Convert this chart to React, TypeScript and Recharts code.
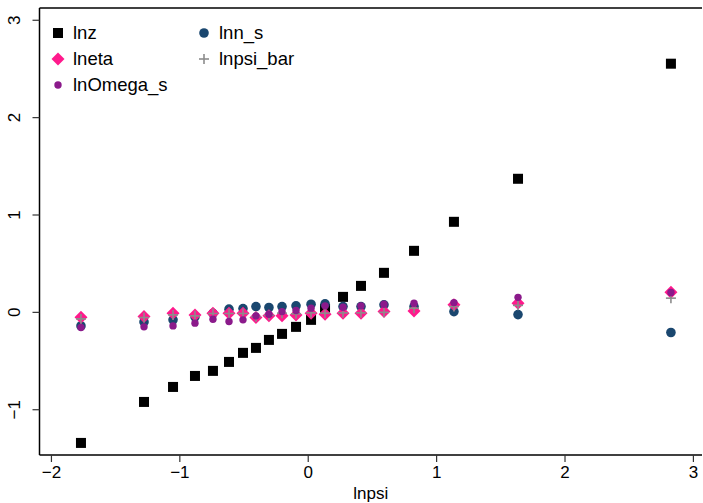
import React from "react";
import { ScatterChart, Scatter, XAxis, YAxis, ReferenceLine } from "recharts";

const lnpsi = [-1.770, -1.279, -1.053, -0.882, -0.742, -0.617, -0.508, -0.407, -0.306, -0.204, -0.095, 0.022, 0.131, 0.271, 0.411, 0.590, 0.824, 1.135, 1.634, 2.825];
const lnz = [-1.341, -0.920, -0.766, -0.653, -0.601, -0.509, -0.416, -0.365, -0.283, -0.221, -0.149, -0.077, 0.036, 0.159, 0.272, 0.406, 0.632, 0.930, 1.372, 2.554];
const lnn_s = [-0.139, -0.098, -0.077, -0.045, -0.010, 0.033, 0.039, 0.060, 0.050, 0.060, 0.067, 0.084, 0.087, 0.060, 0.060, 0.077, 0.060, 0.008, -0.023, -0.207];
const lneta = [-0.050, -0.043, -0.008, -0.026, -0.008, -0.008, -0.008, -0.053, -0.036, -0.036, -0.026, -0.008, -0.019, -0.008, -0.008, 0.008, 0.015, 0.077, 0.094, 0.207];
const lnpsi_bar = [-0.067, -0.053, -0.026, -0.036, -0.012, -0.012, -0.012, -0.045, -0.030, -0.008, -0.015, -0.005, -0.008, -0.005, -0.005, 0.000, 0.043, 0.060, 0.072, 0.146];
const lnOmega_s = [-0.156, -0.149, -0.139, -0.111, -0.070, -0.094, -0.077, -0.036, -0.019, 0.008, 0.019, 0.043, 0.067, 0.053, 0.067, 0.084, 0.094, 0.100, 0.154, 0.204];

const xTicks = [-2, -1, 0, 1, 2, 3];
const yTicks = [-1, 0, 1, 2, 3];

const toPts = (ys: number[]) => lnpsi.map((x, i) => ({ x, y: ys[i] }));

const FONT = '"Liberation Sans", Arial, Helvetica, sans-serif';
const C_Z = "#000000";
const C_N = "#1a476f";
const C_ETA = "#ff1a8c";
const C_BAR = "#8c8c8c";
const C_OM = "#8b1a8b";

const SquareShape = (p: any) => <rect x={p.cx - 5} y={p.cy - 5} width={10} height={10} fill={C_Z} />;
const BlueCircle = (p: any) => <circle cx={p.cx} cy={p.cy} r={4.8} fill={C_N} />;
const DiamondShape = (p: any) => (
  <polygon points={`${p.cx},${p.cy - 6.5} ${p.cx + 6.5},${p.cy} ${p.cx},${p.cy + 6.5} ${p.cx - 6.5},${p.cy}`} fill={C_ETA} />
);
const PlusShape = (p: any) => (
  <g stroke={C_BAR} strokeWidth={1.6}>
    <line x1={p.cx - 5} y1={p.cy} x2={p.cx + 5} y2={p.cy} />
    <line x1={p.cx} y1={p.cy - 5} x2={p.cx} y2={p.cy + 5} />
  </g>
);
const PurpleCircle = (p: any) => <circle cx={p.cx} cy={p.cy} r={3.7} fill={C_OM} />;

const legendItems = [
  { name: "lnz", icon: <rect x={2} y={2} width={10} height={10} fill={C_Z} /> },
  { name: "lnn_s", icon: <circle cx={7} cy={7} r={4.8} fill={C_N} /> },
  { name: "lneta", icon: <polygon points="7,0.5 13.5,7 7,13.5 0.5,7" fill={C_ETA} /> },
  {
    name: "lnpsi_bar",
    icon: (
      <g stroke={C_BAR} strokeWidth={1.6}>
        <line x1={2} y1={7} x2={12} y2={7} />
        <line x1={7} y1={2} x2={7} y2={12} />
      </g>
    ),
  },
  { name: "lnOmega_s", icon: <circle cx={7} cy={7} r={3.7} fill={C_OM} /> },
];

const LegendBox = () => (
  <div style={{ position: "absolute", left: 51, top: 23, width: 320, height: 80, fontFamily: FONT, fontSize: 18.5, color: "#000" }}>
    {legendItems.map((it, i) => {
      const col = i % 2;
      const row = Math.floor(i / 2);
      return (
        <div
          key={it.name}
          style={{
            position: "absolute",
            left: col * 146,
            top: row * 26,
            height: 20,
            display: "flex",
            alignItems: "center",
            whiteSpace: "nowrap",
            lineHeight: "20px",
          }}
        >
          <svg width={14} height={14} style={{ marginRight: 8 }}>
            {it.icon}
          </svg>
          <span>{it.name}</span>
        </div>
      );
    })}
  </div>
);

const YTick = (p: any) => {
  const { x, y, payload } = p;
  const v = payload.value;
  const label = v < 0 ? "\u2212" + Math.abs(v) : String(v);
  return (
    <text
      x={x - 10}
      y={y}
      transform={`rotate(-90, ${x - 10}, ${y})`}
      textAnchor="middle"
      fontFamily={FONT}
      fontSize={17}
      fill="#000"
    >
      {label}
    </text>
  );
};

const XTick = (p: any) => {
  const { x, y, payload } = p;
  const v = payload.value;
  const label = v < 0 ? "\u2212" + Math.abs(v) : String(v);
  return (
    <text x={x} y={y + 14} textAnchor="middle" fontFamily={FONT} fontSize={17} fill="#000">
      {label}
    </text>
  );
};

export default function App() {
  return (
    <div style={{ position: "absolute", left: 0, top: 0, width: 703, height: 503, background: "#fff" }}>
      <ScatterChart width={703} height={503} margin={{ top: 8, right: 1, bottom: 0, left: 0 }}>
        <XAxis
          type="number"
          dataKey="x"
          domain={[-2.093, 3.067]}
          ticks={xTicks}
          allowDataOverflow
          height={48}
          axisLine={{ stroke: "#000", strokeWidth: 1.5 }}
          tickLine={{ stroke: "#333", strokeWidth: 1.2 }}
          tickSize={7}
          tick={<XTick />}
          label={{ value: "lnpsi", position: "insideBottom", offset: 4, fontFamily: FONT, fontSize: 17, fill: "#000" }}
        />
        <YAxis
          type="number"
          dataKey="y"
          domain={[-1.465, 3.126]}
          ticks={yTicks}
          allowDataOverflow
          width={39.5}
          axisLine={{ stroke: "#000", strokeWidth: 1.5 }}
          tickLine={{ stroke: "#333", strokeWidth: 1.2 }}
          tickSize={7}
          tick={<YTick />}
        />
        <ReferenceLine y={3.126} stroke="#000" strokeWidth={1.5} ifOverflow="visible" />
        <Scatter name="lnz" data={toPts(lnz)} shape={SquareShape} isAnimationActive={false} />
        <Scatter name="lnn_s" data={toPts(lnn_s)} shape={BlueCircle} isAnimationActive={false} />
        <Scatter name="lneta" data={toPts(lneta)} shape={DiamondShape} isAnimationActive={false} />
        <Scatter name="lnpsi_bar" data={toPts(lnpsi_bar)} shape={PlusShape} isAnimationActive={false} />
        <Scatter name="lnOmega_s" data={toPts(lnOmega_s)} shape={PurpleCircle} isAnimationActive={false} />
      </ScatterChart>
      <LegendBox />
    </div>
  );
}
